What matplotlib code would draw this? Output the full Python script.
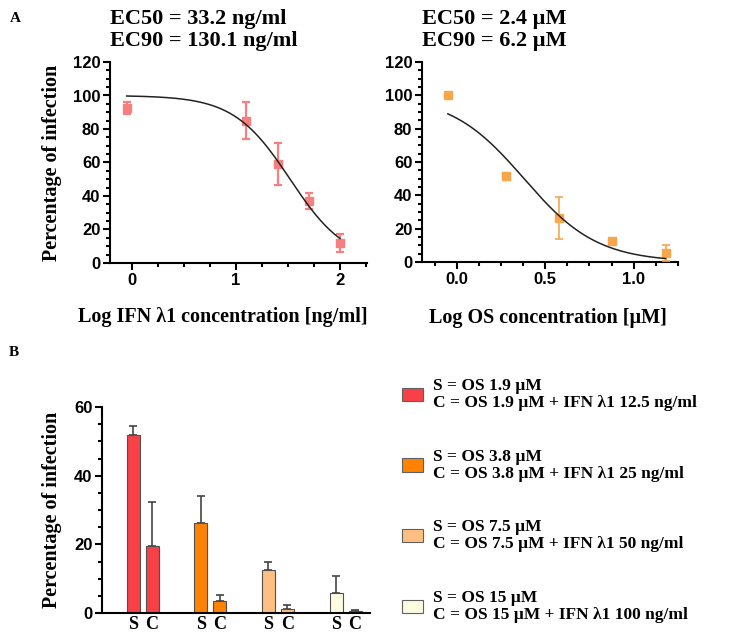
import numpy as np
import matplotlib
matplotlib.use("Agg")
import matplotlib.pyplot as plt
from matplotlib.ticker import MultipleLocator
from matplotlib.patches import Patch

SERIF = "Liberation Serif"
SANS = "Liberation Sans"

# panel A (left): IFN lambda1 dose response
ifn_logx = [-0.05, 1.10, 1.40, 1.70, 2.00]
ifn_mean = [92.5, 85.0, 59.0, 37.0, 12.0]
ifn_sd = [3.5, 11.0, 12.5, 4.5, 5.5]
ifn_ec50 = 33.2     # ng/ml
ifn_hill = 1.6

# panel A (right): OS dose response
os_logx = [-0.05, 0.28, 0.58, 0.88, 1.18]
os_mean = [100.0, 51.5, 26.5, 12.5, 5.5]
os_sd = [0.8, 2.0, 12.5, 2.0, 5.0]
os_ec50 = 2.4       # uM
os_hill = 2.1

# panel B: single (S) vs combination (C)
bar_colors = ["#f74147", "#ff8203", "#ffbf80", "#fdfce0"]
single_mean = [51.7, 26.2, 12.5, 5.8]
single_err = [2.7, 7.8, 2.5, 4.9]
combo_mean = [19.5, 3.4, 1.3, 0.6]
combo_err = [12.7, 1.7, 0.9, 0.2]
legend_labels = [
    "S = OS 1.9 \u00b5M\nC = OS 1.9 \u00b5M + IFN \u03bb1 12.5 ng/ml",
    "S = OS 3.8 \u00b5M\nC = OS 3.8 \u00b5M + IFN \u03bb1 25 ng/ml",
    "S = OS 7.5 \u00b5M\nC = OS 7.5 \u00b5M + IFN \u03bb1 50 ng/ml",
    "S = OS 15 \u00b5M\nC = OS 15 \u00b5M + IFN \u03bb1 100 ng/ml",
]


def hill_curve(logx, ec50, hill):
    return 100.0 / (1.0 + 10 ** ((logx - np.log10(ec50)) * hill))


def style_axes(ax):
    for s in ["top", "right"]:
        ax.spines[s].set_visible(False)
    for s in ["left", "bottom"]:
        ax.spines[s].set_linewidth(1.5)
    ax.tick_params(which="major", length=5, width=1.5, labelsize=12, pad=2)
    ax.tick_params(which="minor", length=3, width=1.5)
    for lab in ax.get_xticklabels() + ax.get_yticklabels():
        lab.set_fontfamily(SANS)
        lab.set_fontweight("bold")


fig = plt.figure(figsize=(7.42, 6.37), dpi=100)
W, H = 742.0, 637.0


def axes_px(x0, x1, ytop, ybot):
    return fig.add_axes([x0 / W, 1 - ybot / H, (x1 - x0) / W, (ybot - ytop) / H])


# ---- top left
ax1 = axes_px(110, 367, 62, 263)
ax1.errorbar(ifn_logx, ifn_mean, yerr=ifn_sd, fmt="s", color="#f77f80", ms=6,
             capsize=3, elinewidth=1.6, capthick=1.6, zorder=3)
xx = np.linspace(ifn_logx[0], ifn_logx[-1], 200)
ax1.plot(xx, hill_curve(xx, ifn_ec50, ifn_hill), color="#222222", lw=1.1, zorder=4)
ax1.set_xlim(-0.21, 2.26)
ax1.set_ylim(0, 120)
ax1.xaxis.set_major_locator(MultipleLocator(1))
ax1.xaxis.set_minor_locator(MultipleLocator(0.25))
ax1.yaxis.set_major_locator(MultipleLocator(20))
ax1.yaxis.set_minor_locator(MultipleLocator(5))
style_axes(ax1)
ax1.set_ylabel("Percentage of infection", fontfamily=SERIF, fontweight="bold", fontsize=14.5)
ax1.yaxis.set_label_coords(-0.225, 0.5)
ax1.yaxis.label.set_va("center")
ax1.set_xlabel("Log IFN \u03bb1 concentration [ng/ml]", fontfamily=SERIF,
               fontweight="bold", fontsize=14.5)
ax1.xaxis.set_label_coords(0.44, -0.27)
ax1.xaxis.label.set_va("center")
ax1.text(0.0, 1.0 + 32 / 201, "EC50 = 33.2 ng/ml\nEC90 = 130.1 ng/ml", transform=ax1.transAxes,
         ha="left", va="center", fontfamily=SERIF, fontweight="bold", fontsize=16,
         linespacing=1.15)

# ---- top right
ax2 = axes_px(422, 678, 62, 262)
ax2.errorbar(os_logx, os_mean, yerr=os_sd, fmt="s", color="#f9a54c", ms=6,
             capsize=3, elinewidth=1.2, capthick=1.2, zorder=3)
xx = np.linspace(os_logx[0], os_logx[-1], 200)
ax2.plot(xx, hill_curve(xx, os_ec50, os_hill), color="#222222", lw=1.1, zorder=4)
ax2.set_xlim(-0.196, 1.25)
ax2.set_ylim(0, 120)
ax2.xaxis.set_major_locator(MultipleLocator(0.5))
ax2.xaxis.set_minor_locator(MultipleLocator(0.125))
ax2.yaxis.set_major_locator(MultipleLocator(20))
ax2.yaxis.set_minor_locator(MultipleLocator(5))
ax2.xaxis.set_major_formatter(plt.FormatStrFormatter("%.1f"))
style_axes(ax2)
ax2.set_xlabel("Log OS concentration [\u00b5M]", fontfamily=SERIF,
               fontweight="bold", fontsize=14.5)
ax2.xaxis.set_label_coords(0.49, -0.28)
ax2.xaxis.label.set_va("center")
ax2.text(0.0, 1.0 + 32 / 200, "EC50 = 2.4 \u00b5M\nEC90 = 6.2 \u00b5M", transform=ax2.transAxes,
         ha="left", va="center", fontfamily=SERIF, fontweight="bold", fontsize=16,
         linespacing=1.15)

# ---- bottom bars
ax3 = axes_px(102, 370, 407, 613)
groups = np.arange(len(single_mean))
off, bw = 0.14, 0.19
ax3.bar(groups - off, single_mean, width=bw, color=bar_colors, edgecolor="#505050",
        linewidth=0.8, zorder=2)
ax3.bar(groups + off, combo_mean, width=bw, color=bar_colors, edgecolor="#505050",
        linewidth=0.8, zorder=2)
ax3.errorbar(groups - off, single_mean, yerr=[np.zeros(4), single_err], fmt="none",
             ecolor="#444444", elinewidth=1.2, capsize=3, capthick=1.2, zorder=1)
ax3.errorbar(groups + off, combo_mean, yerr=[np.zeros(4), combo_err], fmt="none",
             ecolor="#444444", elinewidth=1.2, capsize=3, capthick=1.2, zorder=1)
ax3.set_xlim(-0.6, 3.36)
ax3.set_ylim(0, 60)
ax3.yaxis.set_major_locator(MultipleLocator(20))
ax3.yaxis.set_minor_locator(MultipleLocator(5))
ax3.set_xticks(np.concatenate([groups - off, groups + off]))
ax3.set_xticklabels(["S"] * 4 + ["C"] * 4)
style_axes(ax3)
ax3.tick_params(axis="x", length=0, pad=2)
for lab in ax3.get_xticklabels():
    lab.set_fontfamily(SERIF)
    lab.set_fontsize(13)
ax3.set_ylabel("Percentage of infection", fontfamily=SERIF, fontweight="bold", fontsize=14.5)
ax3.yaxis.set_label_coords(-0.185, 0.5)
ax3.yaxis.label.set_va("center")

handles = [Patch(facecolor=c, edgecolor="#606060", linewidth=0.8) for c in bar_colors]
leg = fig.legend(handles, legend_labels, loc="upper left", bbox_to_anchor=(402 / W, 1 - 378 / H),
                 frameon=False, prop={"family": SERIF, "weight": "bold", "size": 12.5},
                 handlelength=1.2, handleheight=0.8, handletextpad=0.6, labelspacing=2.15,
                 borderpad=0, borderaxespad=0)
for t in leg.get_texts():
    t.set_linespacing(1.1)

fig.text(15 / W, 1 - 18 / H, "A", fontfamily=SERIF, fontweight="bold", fontsize=11,
         ha="center", va="center")
fig.text(14 / W, 1 - 352 / H, "B", fontfamily=SERIF, fontweight="bold", fontsize=11,
         ha="center", va="center")

fig.savefig("out.png", dpi=100)
